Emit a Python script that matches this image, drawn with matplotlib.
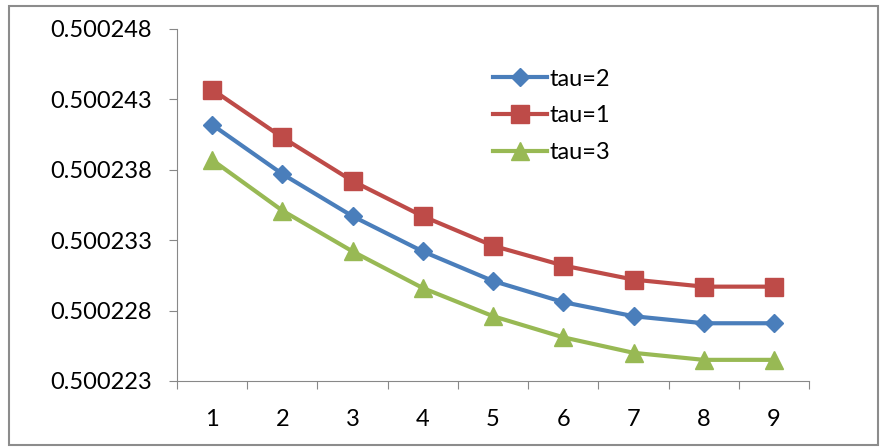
import matplotlib
matplotlib.use("Agg")
import matplotlib.pyplot as plt
from matplotlib.patches import Rectangle

x = [1, 2, 3, 4, 5, 6, 7, 8, 9]
tau2 = [0.5002412, 0.5002377, 0.5002347, 0.5002322, 0.5002301,
        0.5002286, 0.5002276, 0.5002271, 0.5002271]
tau1 = [0.5002437, 0.5002403, 0.5002372, 0.5002347, 0.5002326,
        0.5002312, 0.5002302, 0.5002297, 0.5002297]
tau3 = [0.5002387, 0.5002351, 0.5002322, 0.5002296, 0.5002276,
        0.5002261, 0.5002250, 0.5002245, 0.5002245]
yticks = [0.500223, 0.500228, 0.500233, 0.500238, 0.500243, 0.500248]

plt.rcParams['font.family'] = ['Lato', 'DejaVu Sans']

fig = plt.figure(figsize=(8.86, 4.48), dpi=100)
ax = fig.add_axes([0.1998, 0.1496, 0.7134, 0.7857])

# outer chart frame
fig.patches.append(Rectangle((0.010, 0.006), 0.981, 0.981, transform=fig.transFigure,
                             fill=False, edgecolor='#8c8c8c', linewidth=1.5))

ax.plot(x, tau2, color='#4a7ebb', lw=3, marker='D', ms=9.5, label='tau=2')
ax.plot(x, tau1, color='#be4b48', lw=3, marker='s', ms=13, label='tau=1')
ax.plot(x, tau3, color='#98b954', lw=3, marker='^', ms=13, label='tau=3')

ax.set_xlim(0.5, 9.5)
ax.set_ylim(yticks[0], yticks[-1])

ax.set_yticks(yticks)
ax.set_yticklabels(['%.6f' % v for v in yticks], fontsize=17)

# category ticks at boundaries, labels at centres
ax.set_xticks([i + 0.5 for i in range(0, 10)])
ax.set_xticklabels([])
ax.set_xticks(x, minor=True)
ax.set_xticklabels([str(i) for i in x], minor=True, fontsize=17)
ax.tick_params(axis='x', which='minor', length=0, pad=20)
ax.tick_params(axis='x', which='major', length=6, color='#888888', direction='out')
ax.tick_params(axis='y', length=6, color='#888888', direction='out', pad=12)

for s in ['top', 'right']:
    ax.spines[s].set_visible(False)
for s in ['left', 'bottom']:
    ax.spines[s].set_color('#888888')

ax.legend(loc='upper left', bbox_to_anchor=(0.5, 0.887), frameon=False,
          fontsize=17, handlelength=2.3, handletextpad=0.1, labelspacing=0.66,
          borderpad=0, borderaxespad=0)

fig.savefig('out.png', dpi=100)
